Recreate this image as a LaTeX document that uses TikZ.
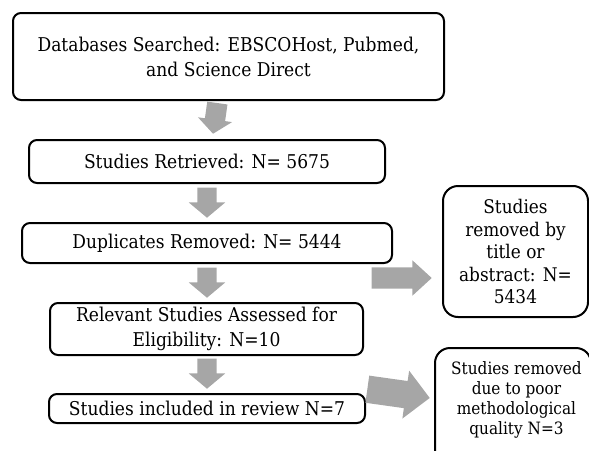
\documentclass[tikz,border=0pt]{standalone}
\usepackage{fontspec}
\setmainfont[FakeStretch=0.9]{DejaVu Serif}
\usetikzlibrary{shapes.arrows}
\definecolor{arrowgray}{HTML}{A6A6A6}
\begin{document}
\begin{tikzpicture}[x=1pt,y=-1pt,
  box/.style={draw, line width=2pt, rounded corners=8pt, inner sep=0pt, align=center,
    font=\fontsize{19}{25}\selectfont},
  sidebox/.style={box, rounded corners=15pt},
  garrow/.style={single arrow, fill=arrowgray, draw=none, inner xsep=0pt, anchor=tip},
  varrow/.style={garrow, minimum height=30pt, inner ysep=9.5pt,
    single arrow head extend=8.5pt, single arrow tip angle=100, rotate=-90}]
\useasboundingbox (0,0) rectangle (589,450);
\clip (0,0) rectangle (589,450);
\node[box, minimum width=431pt, minimum height=87pt] (db) at (228.5,56.5)
  {Databases Searched: EBSCOHost, Pubmed,\\ and Science Direct};
\node[box, minimum width=356pt, minimum height=43pt] (ret) at (207,161.5)
  {Studies Retrieved: N= 5675};
\node[box, minimum width=370pt, minimum height=40pt] (dup) at (207,243)
  {Duplicates Removed: N= 5444};
\node[box, minimum width=313pt, minimum height=52pt] (rel) at (206.5,329)
  {Relevant Studies Assessed for\\ Eligibility: N=10};
\node[box, minimum width=316pt, minimum height=29pt] (inc) at (207,408.5)
  {Studies included in review N=7};
\node[sidebox, minimum width=145pt, minimum height=131pt,
  font=\fontsize{18.8}{22.5}\selectfont] (rem1) at (515.5,251.5)
  {Studies\\ removed by\\ title or\\ abstract: N=\\ 5434};
\node[sidebox, minimum width=156pt, minimum height=123pt, anchor=north west] (rem2) at (434,347) {};
\node[font=\fontsize{17}{20}\selectfont, align=center, inner sep=0pt] (rem2t) at (516.5,400)
  {Studies removed\\ due to poor\\ methodological\\ quality N=3};
% block arrows
\node[garrow, minimum height=31pt, inner ysep=10pt, single arrow head extend=7pt,
  single arrow tip angle=101, rotate=-98] (a1) at (213,134) {};
\node[varrow] (a2) at (207,218) {};
\node[varrow] (a3) at (207,298) {};
\node[varrow] (a4) at (207,389) {};
\node[garrow, minimum height=60pt, inner ysep=10.5pt, single arrow head extend=7pt,
  single arrow tip angle=85] (a5) at (432,278) {};
\node[garrow, minimum height=63pt, inner ysep=13.5pt, single arrow head extend=10.5pt,
  single arrow tip angle=90, rotate=-8] (a6) at (430,398) {};
\end{tikzpicture}
\end{document}
